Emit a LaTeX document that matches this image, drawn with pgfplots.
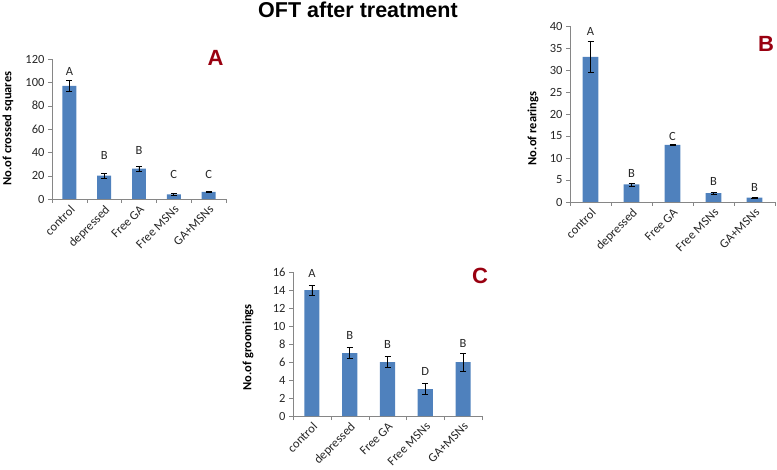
\documentclass[border=0pt]{standalone}
\usepackage{fontspec}
\setmainfont{Carlito}
\newfontfamily\arial{Liberation Sans}
\usepackage{pgfplots}
\pgfplotsset{compat=1.18}

\definecolor{barblue}{HTML}{4F81BD}
\definecolor{axgray}{HTML}{868686}
\definecolor{panelred}{HTML}{990010}

\pgfplotsset{
  oft/.style={
    scale only axis,
    axis lines*=left,
    axis line style={axgray},
    ymin=0,
    xmin=-0.5, xmax=4.5,
    xtick={0,...,4},
    xticklabels={control,depressed,Free GA,Free MSNs,GA+MSNs},
    minor xtick={-0.5,0.5,...,4.5},
    major x tick style={draw=none},
    minor x tick style={axgray},
    ytick style={axgray},
    tick align=outside,
    major tick length=4pt,
    minor tick length=4pt,
    tick label style={text=black!85},
    x tick label style={rotate=45, anchor=north east, inner sep=1pt, font=\fontsize{12.5}{13}\selectfont},
    y tick label style={font=\fontsize{12.5}{13}\selectfont},
    /pgf/number format/assume math mode=true,
    every axis y label/.style={rotate=90, anchor=center, font=\bfseries\fontsize{12.5}{14}\selectfont},
  },
  bars/.style={
    ybar, bar width=0.4, fill=barblue, draw=none,
    error bars/y dir=both, error bars/y explicit,
    error bars/error bar style={black, line width=0.6pt},
    error bars/error mark options={black, rotate=90, mark size=3pt, line width=0.6pt},
  },
  letters/.style={
    draw=none, mark=none, nodes near coords, point meta=explicit symbolic,
    every node near coord/.append style={anchor=center, font=\fontsize{12.5}{13}\selectfont, text=black!85},
  },
}

\begin{document}
\begin{tikzpicture}[x=1pt,y=1pt]
\path[use as bounding box] (0,0) rectangle (777,469);

\node[font=\arial\bfseries\fontsize{21.5}{24}\selectfont] at (358,459.5) {OFT after treatment};

% panel A
\begin{axis}[oft, at={(52pt,270pt)}, anchor=south west, width=174pt, height=140pt,
  ymax=120, ytick={0,20,...,120},
  ylabel={No.of crossed squares}, ylabel style={at={(axis description cs:-0.253,0.504)}}]
\addplot[bars] coordinates {(0,97) +- (0,5) (1,20) +- (0,2) (2,26) +- (0,2) (3,4) +- (0,0.5) (4,6) +- (0,0.3)};
\addplot[letters] coordinates {(0,109.7) [A] (1,36.9) [B] (2,42) [B] (3,20.6) [C] (4,20.6) [C]};
\end{axis}

% panel B
\begin{axis}[oft, at={(570pt,267pt)}, anchor=south west, width=205pt, height=176pt,
  ymax=40, ytick={0,5,...,40},
  ylabel={No.of rearings}, ylabel style={at={(axis description cs:-0.18,0.418)}}]
\addplot[bars, bar width=0.38] coordinates {(0,33) +- (0,3.6) (1,4) +- (0,0.35) (2,13) +- (0,0.15) (3,2) +- (0,0.25) (4,1) +- (0,0.08)};
\addplot[letters] coordinates {(0,38.7) [A] (1,6.4) [B] (2,14.8) [C] (3,4.6) [B] (4,3.3) [B]};
\end{axis}

% panel C
\begin{axis}[oft, at={(293pt,53pt)}, anchor=south west, width=189pt, height=144pt,
  ymax=16, ytick={0,2,...,16},
  ylabel={No.of groomings}, ylabel style={at={(axis description cs:-0.238,0.476)}}]
\addplot[bars] coordinates {(0,14) +- (0,0.55) (1,7) +- (0,0.6) (2,6) +- (0,0.6) (3,3) +- (0,0.6) (4,6) +- (0,1)};
\addplot[letters] coordinates {(0,15.85) [A] (1,9) [B] (2,7.9) [B] (3,4.9) [D] (4,8.1) [B]};
\end{axis}

% panel letters
\begin{scope}[font=\arial\bfseries\fontsize{22}{24}\selectfont, text=panelred]
\node at (215.5,411.5) {A};
\node at (766,425.5) {B};
\node at (480,193.5) {C};
\end{scope}
\end{tikzpicture}
\end{document}
